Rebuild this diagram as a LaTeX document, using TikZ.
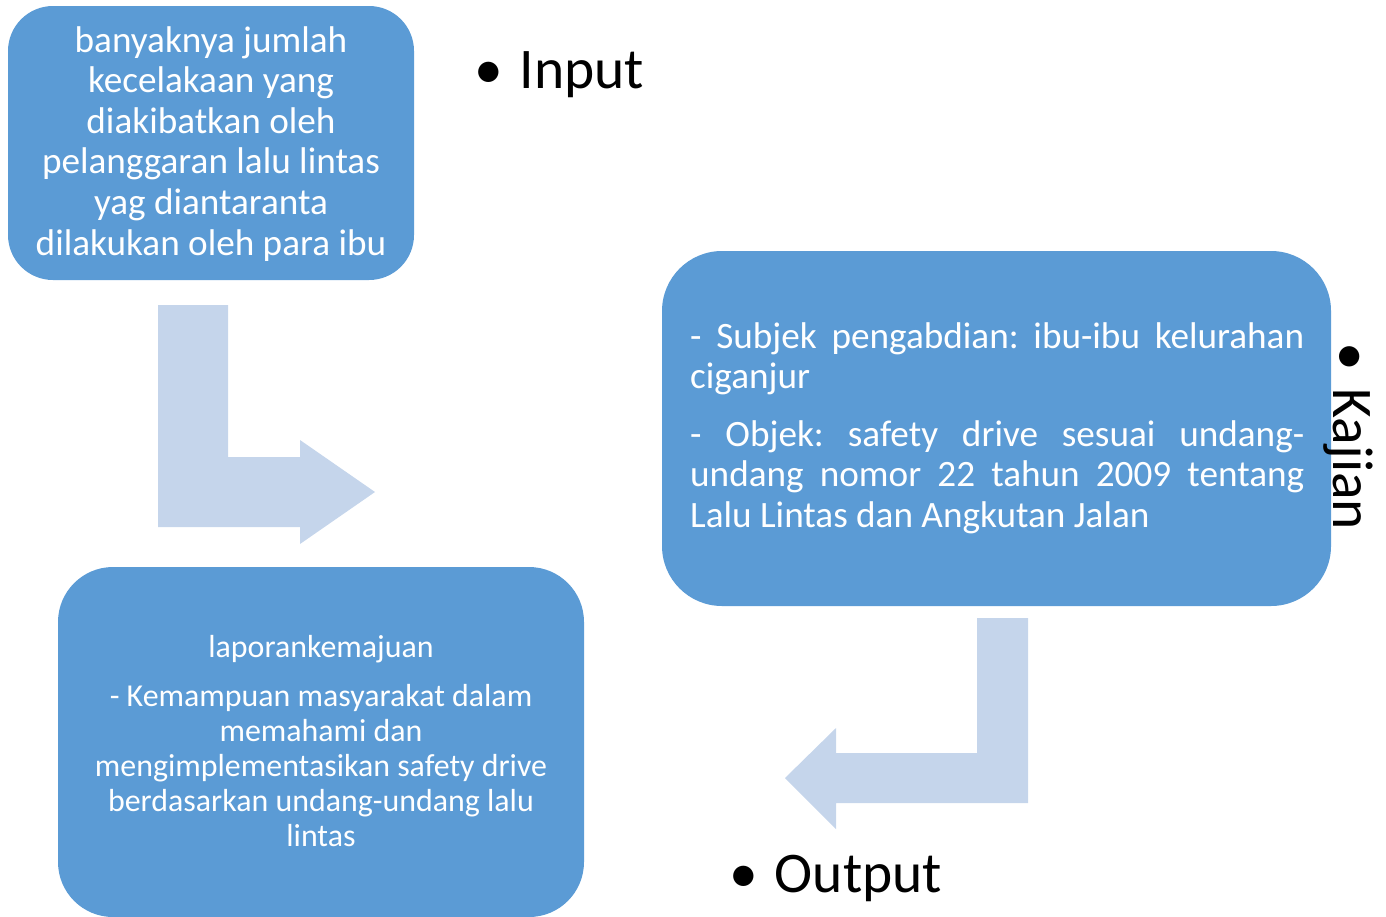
\documentclass[tikz,border=0pt]{standalone}
\usepackage{fontspec}
\setmainfont{Carlito}
\frenchspacing
\definecolor{boxblue}{RGB}{91,155,213}
\definecolor{arrowblue}{RGB}{197,213,235}
\begin{document}
\begin{tikzpicture}[x=1pt,y=-1pt,
  blockbox/.style={fill=boxblue, draw=none, inner sep=0pt, rounded corners=#1},
  boxtext/.style={inner sep=0pt, text=white},
  bigtext/.style={font=\fontsize{37.2}{40.6}\selectfont},
  smalltext/.style={font=\fontsize{31.9}{35}\selectfont},
  label/.style={inner sep=0pt, text=black, font=\fontsize{57.5}{68}\selectfont},
  bentarrow/.style={fill=arrowblue, draw=none}]
\useasboundingbox (0,0) rectangle (1386,916);
% boxes
\node[blockbox=45pt, minimum width=406pt, minimum height=274pt] (inbox) at (211,143) {};
\node[blockbox=60pt, minimum width=669pt, minimum height=355pt] (kajbox) at (996.5,428.5) {};
\node[blockbox=55pt, minimum width=526pt, minimum height=350pt] (outbox) at (321,742) {};
% arrows
\fill[bentarrow] (158,305) -- (228,305) -- (228,457) -- (300,457) -- (300,440) -- (375,492) -- (300,544) -- (300,527) -- (158,527) -- cycle;
\fill[bentarrow] (977,618) -- (1028,618) -- (1028,803) -- (836,803) -- (836,829) -- (785,778) -- (836,728) -- (836,753) -- (977,753) -- cycle;
% texts
\node[boxtext, bigtext, anchor=base] (intext) at (211,52) {\parbox[t]{400pt}{\centering banyaknya jumlah\\ kecelakaan yang\\ diakibatkan oleh\\ pelanggaran lalu lintas\\ yag diantaranta\\ dilakukan oleh para ibu}};
\node[boxtext, bigtext, anchor=base west] (kajtext) at (690,348) {\parbox[t]{614pt}{\makebox[\linewidth][s]{- Subjek pengabdian: ibu-ibu kelurahan}\\ ciganjur\par\vspace{17pt}\makebox[\linewidth][s]{- Objek: safety drive sesuai undang-}\\ \makebox[\linewidth][s]{undang nomor 22 tahun 2009 tentang}\\ Lalu Lintas dan Angkutan Jalan}};
\node[boxtext, smalltext, anchor=base] (outtext) at (321,657) {\parbox[t]{510pt}{\centering laporankemajuan\par\vspace{14pt} - Kemampuan masyarakat dalam\\ memahami dan\\ mengimplementasikan safety drive\\ berdasarkan undang-undang lalu\\ lintas}};
% labels
\node[label, anchor=base west] (input) at (474,88) {\textbullet\hspace{17pt}Input};
\node[label, anchor=base west] (output) at (729,892) {\textbullet\hspace{17pt}Output};
\node[label, anchor=base west, rotate=-90] (kajian) at (1333,342) {\textbullet\hspace{18pt}Kajian};
\end{tikzpicture}
\end{document}
